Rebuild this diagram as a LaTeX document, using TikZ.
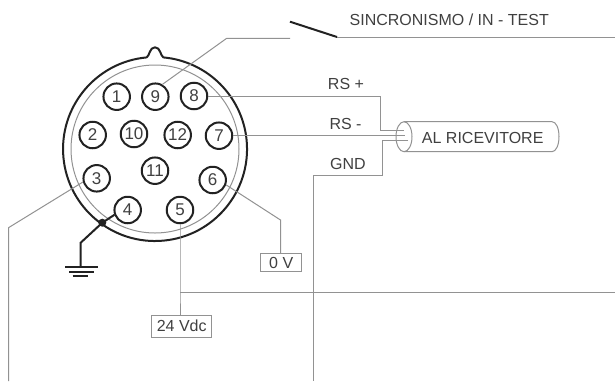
\documentclass[tikz,border=0pt]{standalone}
\usepackage{fontspec}
\setmainfont{Liberation Sans}
\definecolor{wire}{HTML}{929292}
\definecolor{ink}{HTML}{222222}
\definecolor{txt}{HTML}{404040}
\tikzset{
  wireline/.style={draw=wire,line width=1pt},
  pin/.style={circle,draw=ink,line width=2pt,minimum size=26.5pt,inner sep=0pt,font=\fontsize{17}{17}\selectfont,text=txt},
  blackline/.style={draw=ink,line width=2pt},
  lbl/.style={inner sep=0pt,font=\fontsize{16}{16}\selectfont,text=txt},
  boxed/.style={draw=wire,line width=1pt,inner sep=0pt,font=\fontsize{16}{16}\selectfont,text=txt}
}
\begin{document}
\begin{tikzpicture}[x=1pt,y=-1pt]
\useasboundingbox (0,0) rectangle (615,381);
\fill[white] (0,0) rectangle (615,381);
% shell
\node[circle,draw=wire,line width=1pt,minimum size=168pt,inner sep=0pt] (inner) at (155,149) {};
\draw[blackline,line join=round] (146.7,57.4) arc[start angle=95.2,delta angle=349.6,radius=92pt]
  .. controls (160.5,56) and (160.5,47.3) .. (155,47.3)
  .. controls (149.5,47.3) and (149.5,56) .. (146.7,57.4);
% pins
\node[pin] (p1) at (116.7,96.7) {1};
\node[pin] (p9) at (155.3,96.7) {9};
\node[pin] (p8) at (194,96) {8};
\node[pin] (p2) at (92.7,135) {2};
\node[pin] (p10) at (134,134) {10};
\node[pin] (p12) at (177.7,135) {12};
\node[pin] (p7) at (219,135.7) {7};
\node[pin] (p3) at (96.7,178.3) {3};
\node[pin] (p11) at (155,170.7) {11};
\node[pin] (p6) at (212.7,180) {6};
\node[pin] (p4) at (127.7,210) {4};
\node[pin] (p5) at (180,210) {5};
% boxes
\node[boxed,minimum width=41pt,minimum height=18.5pt] (zero) at (281.2,262.5) {0 V};
\node[boxed,minimum width=60pt,minimum height=22pt] (vdc) at (181.7,326) {24 Vdc};
% cable
\coordinate (cableC) at (404,136.7);
\draw[wireline] (404,121.7) -- (552,121.7)
  .. controls (556,121.7) and (559,128) .. (559,136.7)
  .. controls (559,145) and (556,151.7) .. (552,151.7) -- (404,151.7);
\draw[wireline] (cableC) ellipse[x radius=8pt,y radius=15pt];
\node[lbl] (ric) at (482.7,138) {AL RICEVITORE};
% switch
\coordinate (swA) at (290,38.3);
\coordinate (swB) at (290,21.7);
\coordinate (swC) at (337,37);
\coordinate (right1) at (615,37);
\draw[blackline] (swB) -- (swC);
\draw[wireline] (swC) -- (right1);
\coordinate (w9) at (226.7,38.3);
\draw[wireline] (p9.60) -- (w9) -- (swA);
% RS
\coordinate (rsA) at (380,96);
\coordinate (rsB) at (380,130.7);
\coordinate (rsC) at (404,130.7);
\draw[wireline] (p8.east) -- (rsA) -- (rsB) -- (rsC);
\coordinate (rmE) at (405,135.7);
\draw[wireline] (p7.east) -- (rmE);
\coordinate (gA) at (408,140.7);
\coordinate (gB) at (382.3,140.7);
\coordinate (gC) at (382.3,175);
\coordinate (gD) at (313.5,175);
\coordinate (gE) at (313.5,381);
\draw[wireline] (gA) -- (gB) -- (gC) -- (gD) -- (gE);
% 6 -> 0V
\coordinate (s6) at (280.5,220);
\draw[wireline] (p6.-20) -- (s6) -- (s6 |- zero.north);
% 5 -> 24 Vdc
\coordinate (j5) at (180,292.3);
\coordinate (right2) at (615,292.3);
\draw[wireline] (p5.south) -- (j5) -- (j5 |- vdc.north);
\draw[wireline] (j5) -- (right2);
% 3
\coordinate (s3) at (8.5,227.7);
\coordinate (b3) at (8.5,381);
\draw[wireline] (p3.195) -- (s3) -- (b3);
% ground
\coordinate (dot) at (102.3,222.7);
\coordinate (gbend) at (80.7,242.7);
\coordinate (gnd) at (80.7,267.3);
\fill[ink] (dot) circle[radius=4pt];
\draw[blackline] (p4.-160) -- (dot) -- (gbend) -- (gnd);
\draw[blackline] (65,267.3) -- (98.3,267.3);
\draw[blackline] (69,271.5) -- (94,271.5);
\draw[blackline] (72.5,275.7) -- (87.5,275.7);
% labels
\node[lbl,anchor=west] (sinc) at (349.5,20) {SINCRONISMO / IN - TEST};
\node[lbl] (rsp) at (346,84.3) {RS +};
\node[lbl] (rsm) at (345.5,124) {RS -};
\node[lbl] (gndl) at (348,163.7) {GND};
\end{tikzpicture}
\end{document}
